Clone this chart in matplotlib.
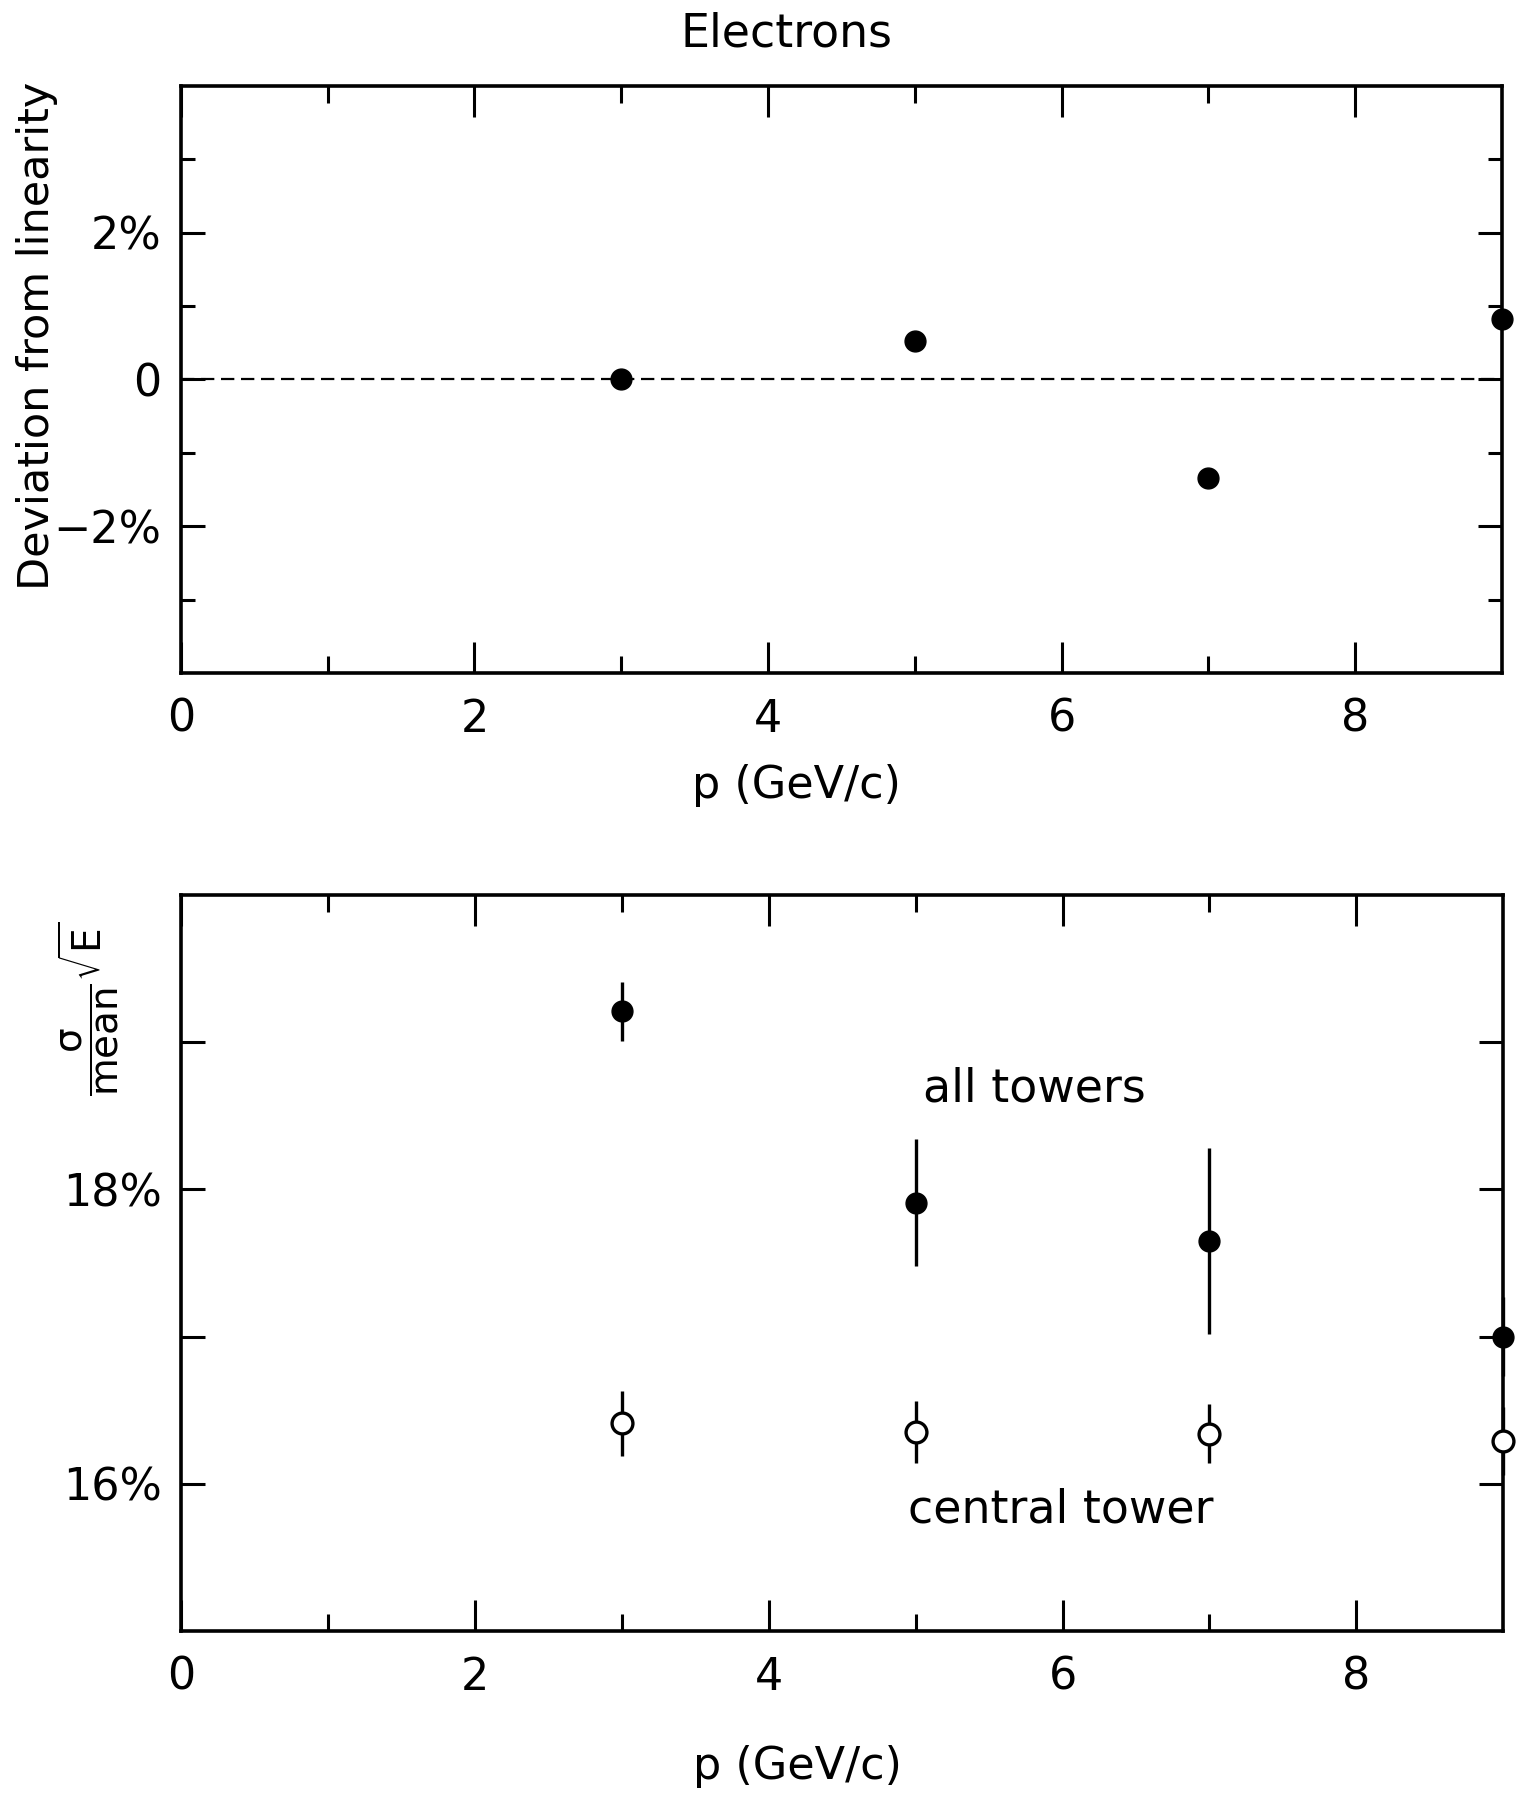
import matplotlib
matplotlib.use("Agg")
import matplotlib.pyplot as plt
from matplotlib.ticker import FixedLocator

plt.rcParams['font.family'] = ['DejaVu Sans']
plt.rcParams['mathtext.fontset'] = 'dejavusans'

# data
p = [3, 5, 7, 9]
deviation = [0.0, 0.52, -1.35, 0.82]

all_towers = [19.21, 17.91, 17.65, 17.0]
all_towers_err = [0.2, 0.43, 0.63, 0.27]
central_tower = [16.41, 16.35, 16.34, 16.29]
central_tower_err = [0.22, 0.21, 0.2, 0.23]

x_major = [0, 2, 4, 6, 8]
x_minor = [1, 3, 5, 7]

fig = plt.figure(figsize=(15.27, 18.04), dpi=100)
ax1 = fig.add_axes([0.1185, 0.627, 0.865, 0.3254])
ax2 = fig.add_axes([0.1185, 0.0959, 0.866, 0.408])


def style_axes(ax):
    for s in ax.spines.values():
        s.set_linewidth(2.6)
    ax.set_xlim(0, 9)
    ax.xaxis.set_major_locator(FixedLocator(x_major))
    ax.xaxis.set_minor_locator(FixedLocator(x_minor))
    ax.tick_params(axis='x', which='major', direction='in', length=22, width=2.2,
                   top=True, bottom=True, labelsize=32, pad=18)
    ax.tick_params(axis='x', which='minor', direction='in', length=12, width=2.2,
                   top=True, bottom=True)
    ax.tick_params(axis='y', which='major', direction='in', length=17, width=2.2,
                   left=True, right=True, labelsize=32, pad=14)
    ax.tick_params(axis='y', which='minor', direction='in', length=10, width=2.2,
                   left=True, right=True)


# top panel
style_axes(ax1)
ax1.set_ylim(-4, 4)
ax1.yaxis.set_major_locator(FixedLocator([-2, 0, 2]))
ax1.yaxis.set_minor_locator(FixedLocator([-3, -1, 1, 3]))
ax1.set_yticklabels(['\u22122%', '0', '2%'])
ax1.axhline(0, color='black', lw=1.6, ls=(0, (6, 3)))
ax1.plot(p, deviation, 'o', color='black', ms=15, clip_on=False, zorder=5)
fig.text(0.515, 0.981, 'Electrons', fontsize=33, ha='center', va='center')
ax1.set_xlabel('p (GeV/c)', fontsize=32)
ax1.xaxis.set_label_coords(0.466, -0.155)
ax1.set_ylabel('Deviation from linearity', fontsize=31)
ax1.yaxis.set_label_coords(-0.093, 0.574)

# bottom panel
style_axes(ax2)
ax2.set_ylim(15, 20)
ax2.yaxis.set_major_locator(FixedLocator([16, 18]))
ax2.yaxis.set_minor_locator(FixedLocator([17, 19]))
ax2.tick_params(axis='y', which='both', length=17)
ax2.set_yticklabels(['16%', '18%'])
ax2.errorbar(p, all_towers, yerr=all_towers_err, fmt='o', color='black', ms=15,
             elinewidth=2.4, capsize=0, clip_on=False, zorder=5)
ax2.errorbar(p, central_tower, yerr=central_tower_err, fmt='o', color='black',
             mfc='white', mec='black', mew=2.4, ms=15, elinewidth=2.4, capsize=0,
             clip_on=False, zorder=5)
ax2.text(5.05, 18.68, 'all towers', fontsize=33, ha='left', va='center')
ax2.text(4.95, 15.82, 'central tower', fontsize=33, ha='left', va='center')
ax2.set_xlabel('p (GeV/c)', fontsize=32)
ax2.xaxis.set_label_coords(0.466, -0.155)
ax2.set_ylabel(r'$\dfrac{\mathrm{\sigma}}{\mathrm{mean}}\sqrt{\mathrm{E}}$', fontsize=28)
ax2.yaxis.set_label_coords(-0.045, 0.846)

fig.savefig('out.png', dpi=100)
